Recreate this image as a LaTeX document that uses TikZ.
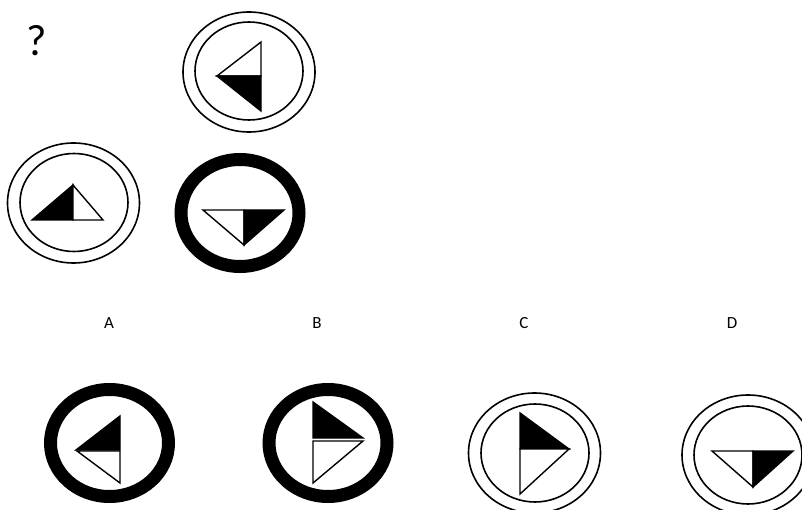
\documentclass[tikz,border=0pt]{standalone}
\usepackage{fontspec}
\setmainfont{Carlito}
\usetikzlibrary{shapes}

\begin{document}
\begin{tikzpicture}[x=1pt,y=-1pt,
    ring/.style={ellipse,draw,line width=1.6pt,inner sep=0pt,minimum width=132pt,minimum height=120pt},
    inring/.style={ellipse,draw,line width=1.6pt,inner sep=0pt,minimum width=108pt,minimum height=98pt},
    thickring/.style={ellipse,draw,line width=13pt,inner sep=0pt,minimum width=118pt,minimum height=107pt},
    half/.style={draw,line width=1.4pt},
    lbl/.style={font=\fontsize{17}{17}\selectfont}]
    \useasboundingbox (0,0) rectangle (802,510);
    \clip (0,0) rectangle (802,510);
    \node[font=\fontsize{44}{44}\selectfont] (qm) at (37,41) {?};
    % question figures
    \node[ring] (q1) at (249,72) {};
    \node[inring] (q1i) at (249,71) {};
    \draw[half,fill=white] (261,42) -- (261,76) -- (217,76) -- cycle;
    \draw[half,fill=black] (261,76) -- (261,111) -- (217,76) -- cycle;
    \node[ring] (q2) at (73.5,203) {};
    \node[inring] (q2i) at (74,202.5) {};
    \draw[half,fill=black] (32,220) -- (73,220) -- (73,185) -- cycle;
    \draw[half,fill=white] (73,220) -- (103,220) -- (73,185) -- cycle;
    \node[thickring] (q3) at (240,213) {};
    \draw[half,fill=white] (203,210) -- (244,210) -- (244,245) -- cycle;
    \draw[half,fill=black] (244,210) -- (284,210) -- (244,245) -- cycle;
    % labels
    \node[lbl] (la) at (109,323) {A};
    \node[lbl] (lb) at (317,323) {B};
    \node[lbl] (lc) at (524,323) {C};
    \node[lbl] (ld) at (732,323) {D};
    % answers
    \node[thickring] (a) at (109.5,443) {};
    \draw[half,fill=black] (120,416) -- (120,450) -- (76,450) -- cycle;
    \draw[half,fill=white] (120,451) -- (120,483) -- (77,451) -- cycle;
    \node[thickring] (b) at (328,443) {};
    \draw[half,fill=black] (313,402) -- (313,438) -- (363,438) -- cycle;
    \draw[half,fill=white] (313,441) -- (313,483) -- (363,441) -- cycle;
    \node[ring] (c) at (534.5,453) {};
    \node[inring] (ci) at (535,453) {};
    \draw[half,fill=black] (520,413) -- (520,449) -- (569,449) -- cycle;
    \draw[half,fill=white] (520,449) -- (520,494) -- (569,449) -- cycle;
    \node[ring] (d) at (748,455) {};
    \node[inring] (di) at (748,455) {};
    \draw[half,fill=white] (712,451) -- (753,451) -- (753,487) -- cycle;
    \draw[half,fill=black] (753,451) -- (793,451) -- (753,487) -- cycle;
\end{tikzpicture}
\end{document}
